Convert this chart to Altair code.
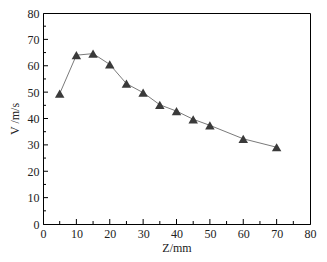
import altair as alt
import pandas as pd

z_vals = [5, 10, 15, 20, 25, 30, 35, 40, 45, 50, 60, 70]
v_vals = [49.4, 64.0, 64.6, 60.5, 53.2, 49.8, 45.2, 42.8, 39.7, 37.4, 32.3, 29.1]
x_major = [0, 10, 20, 30, 40, 50, 60, 70, 80]
x_minor = [5, 15, 25, 35, 45, 55, 65, 75]
y_major = [0, 10, 20, 30, 40, 50, 60, 70, 80]
y_minor = [5, 15, 25, 35, 45, 55, 65, 75]

W, H = 267, 211
FONT = "'Liberation Serif', 'Times New Roman', serif"

df = pd.DataFrame({"Z": z_vals, "V": v_vals})
xs = alt.Scale(domain=[0, 80], nice=False)
ys = alt.Scale(domain=[0, 80], nice=False)

common = dict(ticks=False, grid=False, domainColor="black", labelFont=FONT,
              labelFontSize=12, labelColor="#222", titleFont=FONT, titleFontSize=12,
              titleFontWeight="normal", titleColor="#222", labelOverlap=False,
              labelFlush=False, labelPadding=4)
x_axis = alt.Axis(title="Z/mm", values=x_major, titlePadding=3, **common)
y_axis = alt.Axis(title="V /m/s", values=y_major, titlePadding=6, **common)

base = alt.Chart(df)
line = base.mark_line(color="#7a7a7a", strokeWidth=1).encode(
    x=alt.X("Z:Q", scale=xs, axis=x_axis),
    y=alt.Y("V:Q", scale=ys, axis=y_axis),
)
pts = base.mark_point(shape="triangle-up", filled=True, color="#3a3a3a",
                      opacity=1, size=90).encode(x=alt.X("Z:Q", scale=xs, axis=x_axis),
                                                 y=alt.Y("V:Q", scale=ys, axis=y_axis))

def xticks(vals, length):
    return alt.Chart(pd.DataFrame({"Z": vals})).mark_rule(color="black").encode(
        x=alt.X("Z:Q", scale=xs, axis=x_axis), y=alt.value(H), y2=alt.value(H - length))

def yticks(vals, length):
    return alt.Chart(pd.DataFrame({"V": vals})).mark_rule(color="black").encode(
        y=alt.Y("V:Q", scale=ys, axis=y_axis), x=alt.value(0), x2=alt.value(length))

chart = alt.layer(
    line, pts,
    xticks(x_major[1:-1], 5), xticks(x_minor, 3),
    yticks(y_major[1:-1], 5), yticks(y_minor, 3),
).properties(
    width=W, height=H,
    autosize=alt.AutoSizeParams(type="none"),
    padding={"left": 35, "top": 5, "right": 9, "bottom": 30},
    background="white",
).configure_view(stroke="black", strokeWidth=1)

chart.save("out.html", embed_options={"renderer": "svg", "actions": False})
